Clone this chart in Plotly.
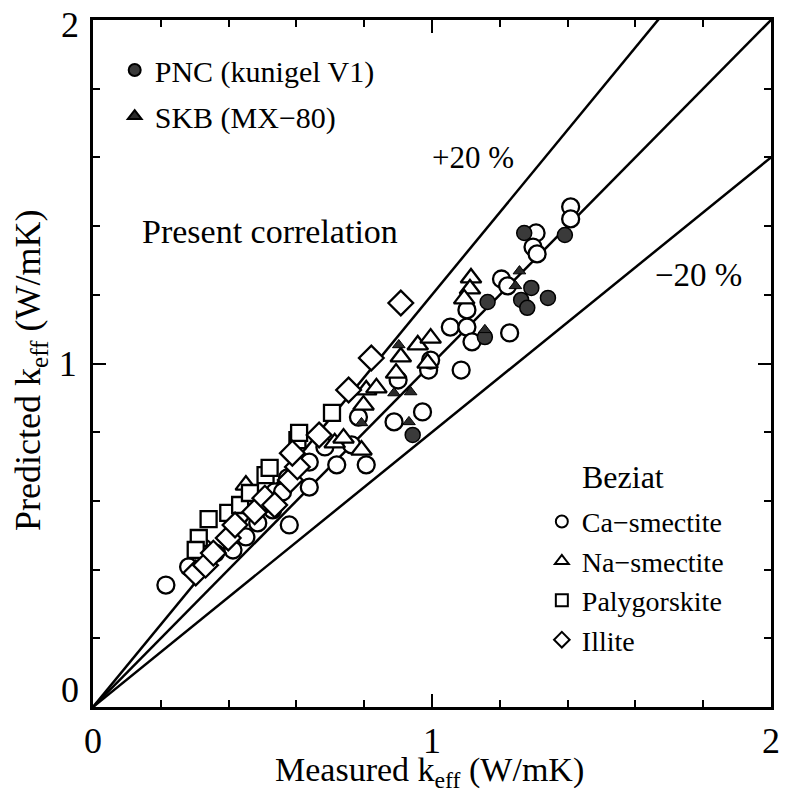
import plotly.graph_objects as go

# ---- data (measured k_eff, predicted k_eff) in W/mK ----
ca_x = [0.215, 0.282, 0.326, 0.361, 0.413, 0.451, 0.486, 0.530, 0.536, 0.579, 0.574, 0.559, 0.638, 0.638,
        0.684, 0.719, 0.763, 0.806, 0.783, 0.888, 0.900, 0.972, 0.990, 0.996, 1.086, 1.054, 1.103, 1.103,
        1.118, 1.229, 1.205, 1.223, 1.307, 1.298, 1.310, 1.409, 1.409]
ca_y = [0.355, 0.408, 0.463, 0.448, 0.457, 0.495, 0.536, 0.574, 0.626, 0.530, 0.667, 0.626, 0.640, 0.713,
        0.757, 0.705, 0.763, 0.705, 0.844, 0.830, 0.952, 0.859, 0.981, 1.010, 0.981, 1.106, 1.156, 1.106,
        1.063, 1.089, 1.246, 1.226, 1.380, 1.339, 1.319, 1.456, 1.421]

na_x = [0.451, 0.713, 0.739, 0.792, 0.798, 0.806, 0.836, 0.894, 0.908, 0.958, 0.987, 1.115, 1.112, 1.095, 0.996]
na_y = [0.646, 0.769, 0.783, 0.748, 0.879, 0.923, 0.929, 0.972, 1.019, 1.054, 1.001, 1.249, 1.217, 1.188, 1.074]

pa_x = [0.312, 0.303, 0.341, 0.399, 0.434, 0.463, 0.509, 0.521, 0.603, 0.608, 0.705]
pa_y = [0.492, 0.457, 0.547, 0.565, 0.588, 0.623, 0.675, 0.696, 0.777, 0.798, 0.856]

il_x = [0.303, 0.332, 0.355, 0.399, 0.419, 0.477, 0.507, 0.536, 0.582, 0.603, 0.588, 0.667, 0.754, 0.821, 0.908]
il_y = [0.390, 0.413, 0.448, 0.492, 0.530, 0.568, 0.608, 0.588, 0.661, 0.699, 0.739, 0.792, 0.923, 1.016, 1.176]

pnc_x = [0.943, 1.164, 1.272, 1.392, 1.293, 1.263, 1.281, 1.342, 1.156]
pnc_y = [0.792, 1.179, 1.380, 1.374, 1.220, 1.185, 1.162, 1.191, 1.077]

skb_x = [1.258, 0.932, 0.902, 0.937, 0.888, 0.792, 1.156, 1.246]
skb_y = [1.269, 0.830, 1.054, 0.917, 0.914, 0.827, 1.098, 1.226]

line_slopes = [1.0, 1.2, 0.8]
line_x = [0.0, 2.0]

x_ticks = [0, 1, 2]
y_ticks = [0, 1, 2]

FONT = "Liberation Serif"

fig = go.Figure()

for s in line_slopes:
    fig.add_trace(go.Scatter(x=line_x, y=[v * s for v in line_x], mode="lines",
                             line=dict(color="black", width=2.5), showlegend=False, hoverinfo="skip"))

def hollow(sym, size):
    return dict(symbol=sym, size=size, color="white", line=dict(color="black", width=2.3))

fig.add_trace(go.Scatter(x=ca_x, y=ca_y, mode="markers", name="Ca\u2212smectite",
                         marker=hollow("circle", 17), legend="legend2"))
fig.add_trace(go.Scatter(x=na_x, y=na_y, mode="markers", name="Na\u2212smectite",
                         marker=hollow("triangle-up", 18), legend="legend2"))
fig.add_trace(go.Scatter(x=pa_x, y=pa_y, mode="markers", name="Palygorskite",
                         marker=hollow("square", 16), legend="legend2"))
fig.add_trace(go.Scatter(x=il_x, y=il_y, mode="markers", name="Illite",
                         marker=hollow("diamond", 19), legend="legend2"))
fig.add_trace(go.Scatter(x=pnc_x, y=pnc_y, mode="markers", name="PNC (kunigel V1)",
                         marker=dict(symbol="circle", size=15, color="#3a3a3a", line=dict(color="black", width=1.5)),
                         legend="legend", legendgroup="e"))
fig.add_trace(go.Scatter(x=skb_x, y=skb_y, mode="markers", name="SKB (MX\u221280)",
                         marker=dict(symbol="triangle-up", size=11, color="#2a2a2a", line=dict(color="black", width=1)),
                         legend="legend", legendgroup="f"))

axis_common = dict(range=[0, 2], showgrid=False, zeroline=False, showline=True, linecolor="black",
                   linewidth=3, mirror="ticks", ticks="inside", ticklen=13, tickwidth=2, tickcolor="black",
                   minor=dict(dtick=0.2, ticks="inside", ticklen=7, tickwidth=2, tickcolor="black"),
                   tickfont=dict(family=FONT, size=36, color="black"))

fig.update_layout(
    width=792, height=792,
    margin=dict(l=93, r=12, t=20, b=85),
    paper_bgcolor="white", plot_bgcolor="white",
    xaxis=dict(**axis_common, tickvals=x_ticks, ticktext=[str(v) for v in x_ticks]),
    yaxis=dict(**axis_common, tickvals=[y_ticks[1]], ticktext=[str(y_ticks[1])], ticklabelstandoff=6),
    legend=dict(x=0.032, y=0.965, xanchor="left", yanchor="top", bgcolor="rgba(0,0,0,0)",
                font=dict(family=FONT, size=30, color="black"), itemsizing="constant", tracegroupgap=4),
    legend2=dict(x=0.662, y=0.306, xanchor="left", yanchor="top", bgcolor="rgba(0,0,0,0)",
                 font=dict(family=FONT, size=28, color="black"), itemsizing="constant"),
    showlegend=True,
)

annos = [
    dict(text="+20 %", x=1.121, y=1.601, size=31),
    dict(text="Present correlation", x=0.521, y=1.383, size=34),
    dict(text="\u221220 %", x=1.785, y=1.258, size=33),
    dict(text="Beziat", x=1.563, y=0.670, size=32),
]
for a in annos:
    fig.add_annotation(text=a["text"], x=a["x"], y=a["y"], xref="x", yref="y", showarrow=False,
                       font=dict(family=FONT, size=a["size"], color="black"))

# y tick labels at the ends of the axis (offset slightly, as in the original)
for v, shift in ((y_ticks[0], 17), (y_ticks[2], -5)):
    fig.add_annotation(text=str(v), x=0, y=v, xref="paper", yref="y", xanchor="right", xshift=-12,
                       yshift=shift, showarrow=False, font=dict(family=FONT, size=36, color="black"))

fig.add_annotation(text="Measured k<sub>eff</sub> (W/mK)", x=0.497, y=-0.094, xref="paper", yref="paper",
                   xanchor="center", yanchor="middle",
                   showarrow=False, font=dict(family=FONT, size=34, color="black"))
fig.add_annotation(text="Predicted k<sub>eff</sub> (W/mK)", x=-0.092, y=0.49, xref="paper", yref="paper",
                   xanchor="center", yanchor="middle",
                   textangle=-90, showarrow=False, font=dict(family=FONT, size=36, color="black"))

fig.write_html("out.html")
